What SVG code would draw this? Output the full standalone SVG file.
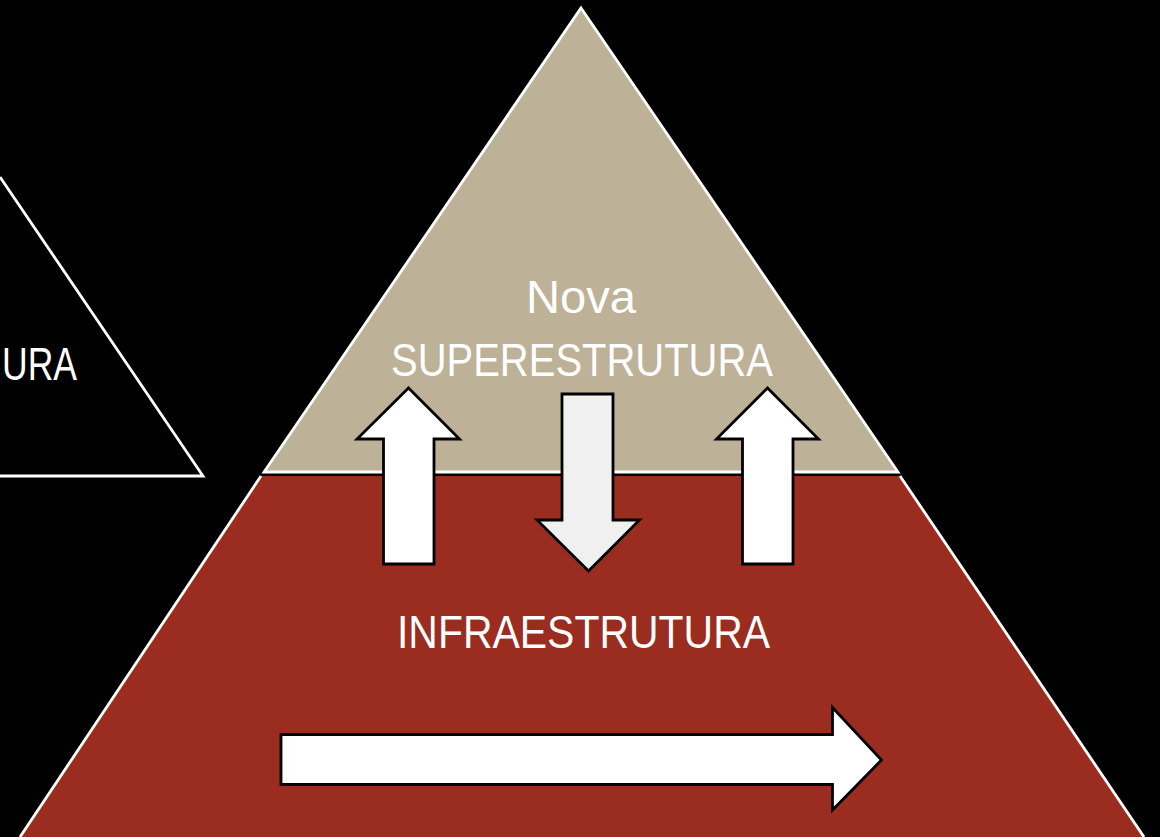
<svg xmlns="http://www.w3.org/2000/svg" width="1160" height="837" viewBox="0 0 1160 837">
  <style>
    .lbl { font-family: "Liberation Sans", Arial, sans-serif; font-size: 46px; fill: #ffffff; }
    .arrow { fill: #ffffff; stroke: #000000; stroke-width: 2.8; stroke-linejoin: miter; }
    .edge { stroke: #ffffff; stroke-width: 2.8; fill: none; }
  </style>
  <rect x="0" y="0" width="1160" height="837" fill="#000000"/>

  <g id="old-pyramid">
    <polyline class="edge" points="0,177 203,476 0,476"/>
    <text class="lbl" x="2" y="380" textLength="75" lengthAdjust="spacingAndGlyphs">URA</text>
  </g>

  <g id="infraestrutura">
    <polygon points="261,476 900,476 1144,837 20,837" fill="#9a2c20"/>
    <line class="edge" x1="261" y1="476" x2="20" y2="837"/>
    <line class="edge" x1="900" y1="476" x2="1144" y2="837"/>
    <line x1="262" y1="474.5" x2="899" y2="474.5" stroke="#000000" stroke-width="2.2"/>
    <text class="lbl" x="397" y="648" textLength="373" lengthAdjust="spacingAndGlyphs">INFRAESTRUTURA</text>
  </g>

  <g id="superestrutura">
    <polygon points="581,8 898,472 264,472" fill="#bdb197" stroke="#ffffff" stroke-width="2.8"/>
    <text class="lbl" x="526" y="313" textLength="110" lengthAdjust="spacingAndGlyphs">Nova</text>
    <text class="lbl" x="391" y="376" textLength="382" lengthAdjust="spacingAndGlyphs">SUPERESTRUTURA</text>
  </g>

  <g id="connectors">
    <polygon id="arrow-up-left" class="arrow" points="408.5,388 459.5,439 434,439 434,564 383.5,564 383.5,439 357,439"/>
    <polygon id="arrow-down" class="arrow" style="fill:#f0f0f0" points="562,394 613,394 613,520 639.5,520 588.5,571 537,520 562,520"/>
    <polygon id="arrow-up-right" class="arrow" points="767.5,388 818.5,439 793,439 793,564 742.5,564 742.5,439 716.5,439"/>
    <polygon id="arrow-right" class="arrow" points="281,734.5 832.5,734.5 832.5,707.5 881.5,760 832.5,810 832.5,784.5 281,784.5"/>
  </g>
</svg>
